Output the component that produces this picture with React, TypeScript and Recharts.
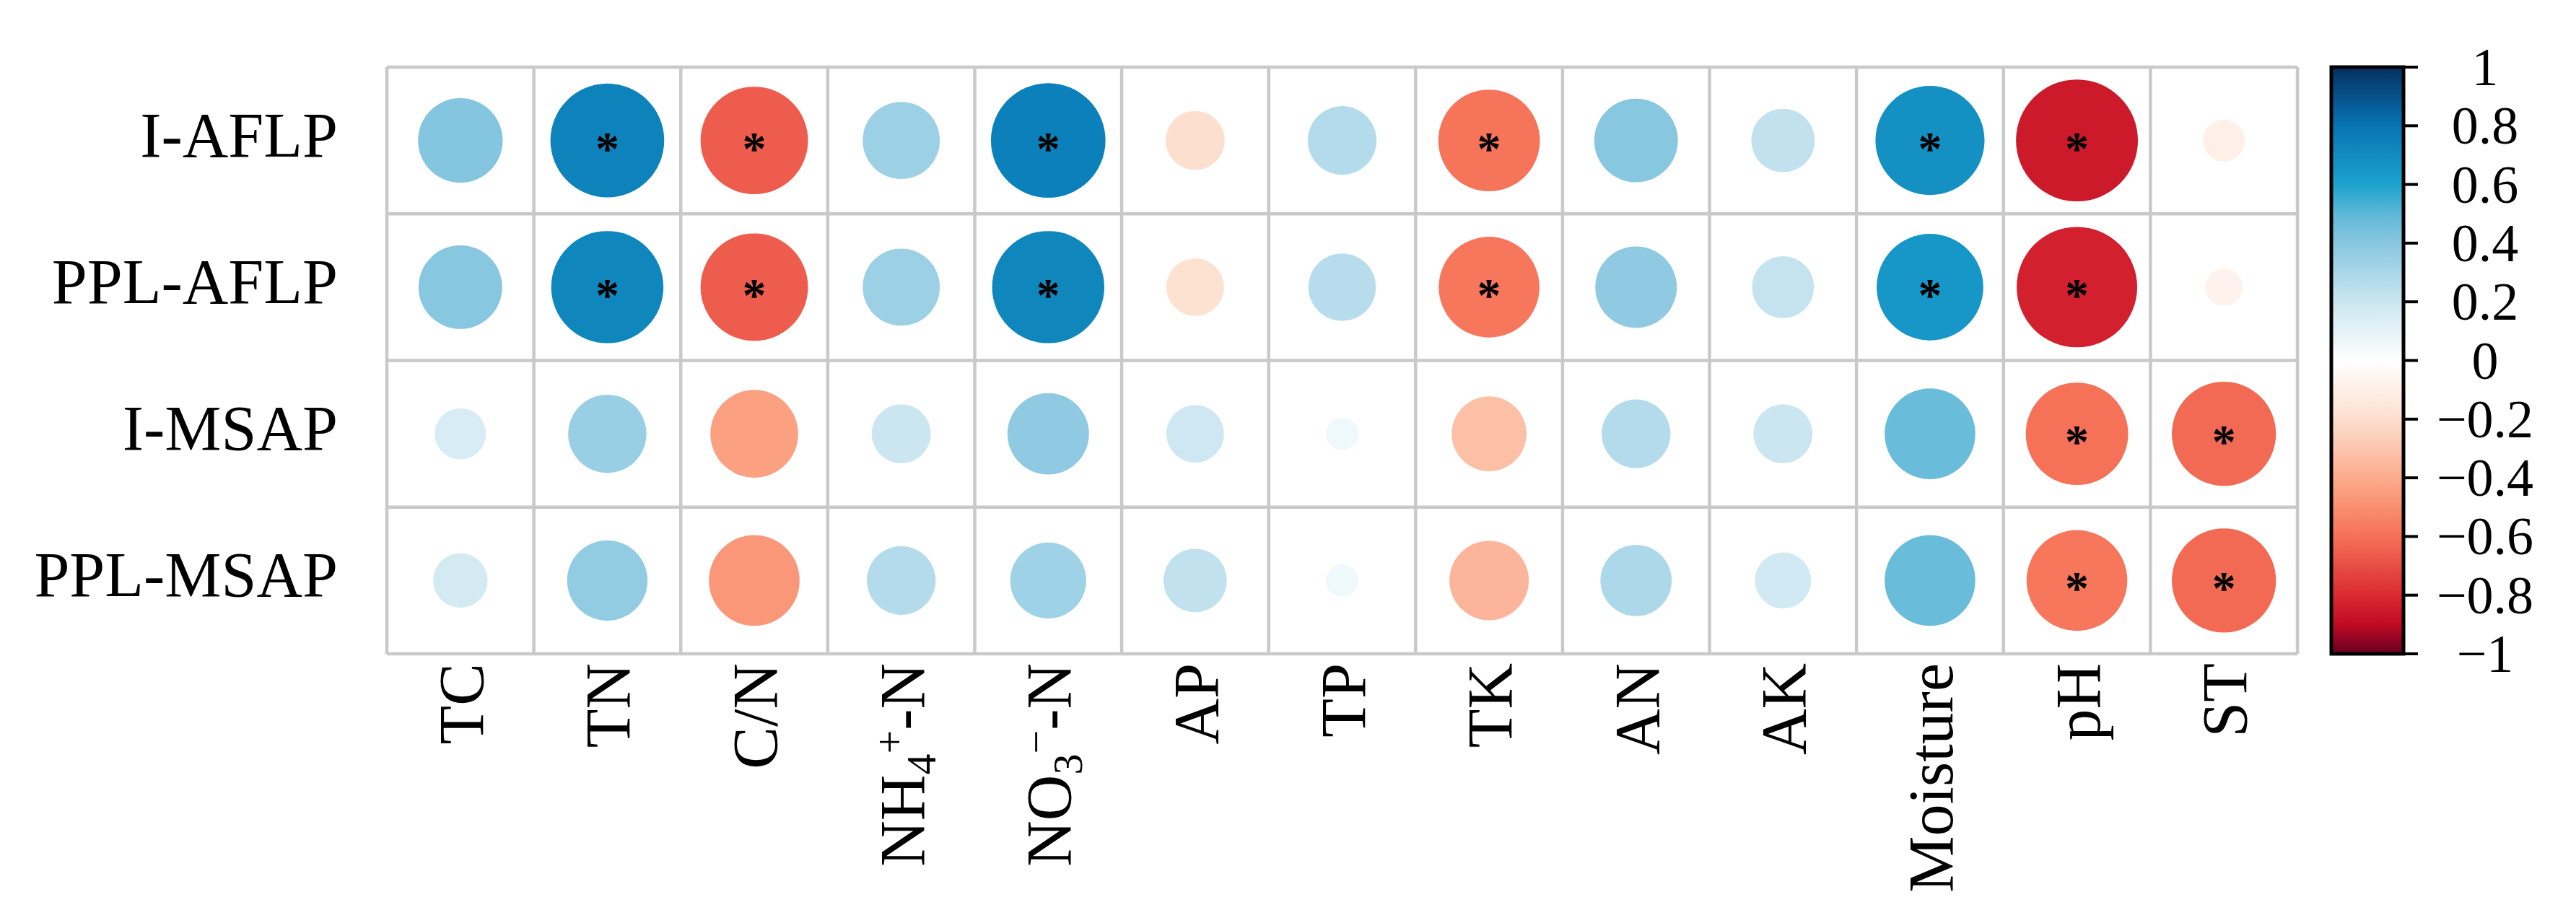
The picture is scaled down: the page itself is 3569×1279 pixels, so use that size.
import {
  Bar,
  BarChart,
  Cell,
  ReferenceLine,
  Scatter,
  ScatterChart,
  XAxis,
  YAxis,
  ZAxis,
} from "recharts";

// soil variables (columns) and marker sets (rows)
const variables = ["TC", "TN", "C/N", "NH4+-N", "NO3--N", "AP", "TP", "TK", "AN", "AK", "Moisture", "pH", "ST"];
const markerSets = ["I-AFLP", "PPL-AFLP", "I-MSAP", "PPL-MSAP"];

// correlation coefficients, one list per row
const iAflp = [0.41, 0.74, -0.66, 0.34, 0.75, -0.2, 0.27, -0.59, 0.4, 0.23, 0.68, -0.85, -0.1];
const pplAflp = [0.4, 0.72, -0.66, 0.34, 0.72, -0.19, 0.26, -0.58, 0.38, 0.22, 0.65, -0.83, -0.08];
const iMsap = [0.15, 0.35, -0.44, 0.2, 0.38, 0.19, 0.06, -0.32, 0.27, 0.2, 0.47, -0.6, -0.62];
const pplMsap = [0.17, 0.37, -0.47, 0.27, 0.33, 0.23, 0.06, -0.36, 0.29, 0.18, 0.47, -0.58, -0.62];

// significant cells (p < 0.05)
const sigIAflp = ["TN", "C/N", "NO3--N", "TK", "Moisture", "pH"];
const sigPplAflp = ["TN", "C/N", "NO3--N", "TK", "Moisture", "pH"];
const sigIMsap = ["pH", "ST"];
const sigPplMsap = ["pH", "ST"];

const colorbarTicks = [1, 0.8, 0.6, 0.4, 0.2, 0, -0.2, -0.4, -0.6, -0.8, -1];

const rowValues = [iAflp, pplAflp, iMsap, pplMsap];
const rowSig = [sigIAflp, sigPplAflp, sigIMsap, sigPplMsap];

// colour ramp
const palette: [number, string][] = [
  [-1, "#67001F"],
  [-0.9, "#C00A24"],
  [-0.8, "#DA2A32"],
  [-0.6, "#F57157"],
  [-0.5, "#F98F70"],
  [-0.4, "#FCAB8D"],
  [-0.2, "#FDDFCF"],
  [0, "#FFFFFF"],
  [0.2, "#CBE6F1"],
  [0.4, "#88C7E0"],
  [0.5, "#5DB8D8"],
  [0.6, "#1CA3CD"],
  [0.8, "#0774B3"],
  [1, "#053061"],
];

const hex = (c: string) => [1, 3, 5].map((i) => parseInt(c.slice(i, i + 2), 16));

function colorFor(v: number) {
  for (let i = 0; i < palette.length - 1; i++) {
    const [a, ca] = palette[i];
    const [b, cb] = palette[i + 1];
    if (v >= a && v <= b) {
      const t = (v - a) / (b - a);
      const x = hex(ca);
      const y = hex(cb);
      const m = x.map((c, k) => Math.round(c + (y[k] - c) * t));
      return `rgb(${m[0]},${m[1]},${m[2]})`;
    }
  }
  return "#FFFFFF";
}

const cells = rowValues.flatMap((vals, yi) =>
  vals.map((v, xi) => ({
    x: xi,
    y: yi,
    r: v,
    mag: Math.abs(v),
    sig: rowSig[yi].includes(variables[xi]),
  }))
);
const sigCells = cells.filter((c) => c.sig);

const PLOT_LEFT = 536;
const PLOT_RIGHT = 3183;
const PLOT_TOP = 93;
const PLOT_BOTTOM = 906;
const CELL = (PLOT_RIGHT - PLOT_LEFT) / variables.length;
const MAX_R = 0.45 * CELL;
const MAX_AREA = Math.PI * MAX_R * MAX_R;

const colEdges = Array.from({ length: variables.length + 1 }, (_, i) => i - 0.5);
const rowEdges = Array.from({ length: markerSets.length + 1 }, (_, i) => i - 0.5);

const SERIF = "'Liberation Serif', 'Times New Roman', serif";
const GRID = "#C9C9C9";

function VariableLabel({ name }: { name: string }) {
  if (name === "NH4+-N") {
    return (
      <>
        NH
        <tspan fontSize={58} dy={16}>4</tspan>
        <tspan fontSize={58} dy={-44}>+</tspan>
        <tspan dy={28}>-N</tspan>
      </>
    );
  }
  if (name === "NO3--N") {
    return (
      <>
        NO
        <tspan fontSize={58} dy={16}>3</tspan>
        <tspan fontSize={58} dy={-44}>−</tspan>
        <tspan dy={28}>-N</tspan>
      </>
    );
  }
  return <>{name}</>;
}

function XTick(props: any) {
  const { x, y, payload } = props;
  const name = variables[payload.value];
  if (name === undefined) return null;
  return (
    <text
      transform={`translate(${x + 31}, ${y + 13}) rotate(-90)`}
      textAnchor="end"
      fontFamily={SERIF}
      fontSize={88}
      fill="#000"
    >
      <VariableLabel name={name} />
    </text>
  );
}

function YTick(props: any) {
  const { x, y, payload } = props;
  const name = markerSets[payload.value];
  if (name === undefined) return null;
  return (
    <text x={x - 68} y={y + 22} textAnchor="end" fontFamily={SERIF} fontSize={88} fill="#000">
      {name}
    </text>
  );
}

function Star(props: any) {
  const { cx, cy } = props;
  return (
    <text
      x={cx}
      y={cy + 33}
      textAnchor="middle"
      fontFamily={SERIF}
      fontWeight="bold"
      fontSize={66}
      fill="#000"
    >
      *
    </text>
  );
}

function formatTick(v: number) {
  if (v === 0) return "0";
  return v < 0 ? `−${Math.abs(v)}` : `${v}`;
}

function ColorbarTick(props: any) {
  const { x, y, payload } = props;
  return (
    <text x={x + 93} y={y + 25} textAnchor="middle" fontFamily={SERIF} fontSize={74} fill="#000">
      {formatTick(payload.value)}
    </text>
  );
}

const colorbarData = [{ name: "scale", span: [-1, 1] }];

export default function App() {
  return (
    <div
      style={{
        position: "absolute",
        left: 0,
        top: 0,
        width: 3569,
        height: 1279,
        background: "#fff",
        overflow: "hidden",
      }}
    >
      <div style={{ position: "absolute", left: 0, top: 0 }}>
        <ScatterChart
          width={PLOT_RIGHT + 17}
          height={1279}
          margin={{ top: PLOT_TOP, right: 17, bottom: 0, left: 0 }}
        >
          <XAxis
            type="number"
            dataKey="x"
            domain={[-0.5, variables.length - 0.5]}
            ticks={variables.map((_, i) => i)}
            interval={0}
            axisLine={false}
            tickLine={false}
            tickSize={0}
            tickMargin={0}
            height={1279 - PLOT_BOTTOM}
            tick={<XTick />}
            allowDataOverflow
          />
          <YAxis
            type="number"
            dataKey="y"
            domain={[-0.5, markerSets.length - 0.5]}
            ticks={markerSets.map((_, i) => i)}
            reversed
            interval={0}
            axisLine={false}
            tickLine={false}
            tickSize={0}
            tickMargin={0}
            width={PLOT_LEFT}
            tick={<YTick />}
            allowDataOverflow
          />
          <ZAxis type="number" dataKey="mag" domain={[0, 1]} range={[0, MAX_AREA]} />

          {colEdges.map((e) => (
            <ReferenceLine key={`cx${e}`} x={e} stroke={GRID} strokeWidth={4.5} ifOverflow="visible" />
          ))}
          {rowEdges.map((e) => (
            <ReferenceLine key={`cy${e}`} y={e} stroke={GRID} strokeWidth={4.5} ifOverflow="visible" />
          ))}

          <Scatter data={cells} isAnimationActive={false}>
            {cells.map((c, i) => (
              <Cell key={i} fill={colorFor(c.r)} />
            ))}
          </Scatter>
          <Scatter data={sigCells} shape={<Star />} isAnimationActive={false} />
        </ScatterChart>
      </div>

      <div style={{ position: "absolute", left: 3200, top: 0 }}>
        <BarChart
          width={369}
          height={1279}
          data={colorbarData}
          margin={{ top: PLOT_TOP, right: 0, bottom: 1279 - PLOT_BOTTOM, left: 30 }}
          barCategoryGap={0}
        >
          <defs>
            <linearGradient id="cbGrad" x1="0" y1="0" x2="0" y2="1">
              {palette
                .slice()
                .reverse()
                .map(([v, c]) => (
                  <stop key={v} offset={`${((1 - v) / 2) * 100}%`} stopColor={c} />
                ))}
            </linearGradient>
          </defs>
          <XAxis dataKey="name" hide />
          <YAxis
            type="number"
            orientation="right"
            domain={[-1, 1]}
            ticks={colorbarTicks}
            interval={0}
            axisLine={false}
            tickLine={{ stroke: "#000", strokeWidth: 4 }}
            tickSize={20}
            tickMargin={0}
            width={239}
            tick={<ColorbarTick />}
          />
          <Bar dataKey="span" fill="url(#cbGrad)" stroke="#000" strokeWidth={5} isAnimationActive={false} />
        </BarChart>
      </div>
    </div>
  );
}
